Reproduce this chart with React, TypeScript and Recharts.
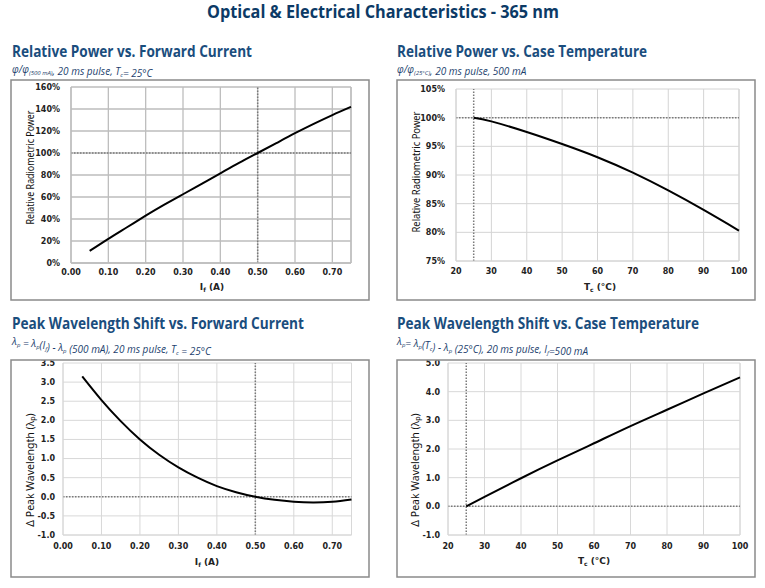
import React from 'react';
import { LineChart, Line, XAxis, YAxis, CartesianGrid, ReferenceLine } from 'recharts';

// ---- data ----
const currentA = [0.05, 0.1, 0.15, 0.2, 0.25, 0.3, 0.35, 0.4, 0.45, 0.5, 0.55, 0.6, 0.65, 0.7, 0.75];
const relPowerVsCurrent = [11, 22, 32.5, 43, 53, 62.5, 72, 81.5, 91, 100, 109, 118, 126.5, 134.5, 142];
const caseTempC = [25, 30, 40, 50, 60, 70, 80, 90, 100];
const relPowerVsTemp = [100, 99.35, 97.5, 95.4, 93.1, 90.4, 87.3, 83.9, 80.3];
const wlShiftVsCurrent = [3.15, 2.53, 1.98, 1.5, 1.1, 0.77, 0.5, 0.28, 0.12, 0, -0.08, -0.13, -0.15, -0.13, -0.07];
const wlShiftVsTemp = [0, 0.33, 0.98, 1.6, 2.2, 2.8, 3.37, 3.94, 4.5];

const currentTicks = [0, 0.1, 0.2, 0.3, 0.4, 0.5, 0.6, 0.7];
const tempTicks = [20, 30, 40, 50, 60, 70, 80, 90, 100];
const powerTicks = [0, 20, 40, 60, 80, 100, 120, 140, 160];
const powerTempTicks = [75, 80, 85, 90, 95, 100, 105];
const shiftCurrentTicks = [-1, -0.5, 0, 0.5, 1, 1.5, 2, 2.5, 3, 3.5];
const shiftTempTicks = [-1, 0, 1, 2, 3, 4, 5];

const pct = (v: number) => `${v}%`;
const f2 = (v: number) => v.toFixed(2);
const f1 = (v: number) => v.toFixed(1);
const f0 = (v: number) => `${v}`;

type PanelProps = {
  box: [number, number, number, number];
  plot: [number, number, number, number];
  xs: number[];
  ys: number[];
  xDomain: [number, number];
  xTicks: number[];
  yDomain: [number, number];
  yTicks: number[];
  xFmt: (v: number) => string;
  yFmt: (v: number) => string;
  refX: number;
  refY: number;
  gridColor: string;
  gridWidth: number;
  yTickMargin: number;
  xTickMargin: number;
};

const tickStyle = { fontSize: 8, fontWeight: 700, fontFamily: 'DejaVu Sans', fill: '#222' };

function Panel(p: PanelProps) {
  const [bl, bt, br, bb] = p.box;
  const [pl, pt, pr, pb] = p.plot;
  const W = br - bl;
  const H = bb - bt;
  const yw = 30;
  const xh = 20;
  const data = p.xs.map((x, i) => ({ x, y: p.ys[i] }));
  return (
    <div style={{ position: 'absolute', left: bl, top: bt, width: W, height: H }}>
      <LineChart
        width={W}
        height={H}
        data={data}
        margin={{ left: pl - bl - yw, top: pt - bt, right: br - pr, bottom: bb - pb - xh }}
      >
        <CartesianGrid stroke={p.gridColor} strokeWidth={p.gridWidth} />
        <XAxis
          type="number"
          dataKey="x"
          domain={p.xDomain}
          ticks={p.xTicks}
          interval={0}
          tickFormatter={p.xFmt}
          tickLine={false}
          tickSize={0}
          tickMargin={p.xTickMargin}
          axisLine={{ stroke: p.gridColor, strokeWidth: p.gridWidth }}
          height={xh}
          tick={tickStyle}
        />
        <YAxis
          type="number"
          domain={p.yDomain}
          ticks={p.yTicks}
          interval={0}
          tickFormatter={p.yFmt}
          tickLine={false}
          tickSize={0}
          tickMargin={p.yTickMargin}
          axisLine={{ stroke: p.gridColor, strokeWidth: p.gridWidth }}
          width={yw}
          tick={tickStyle}
        />
        <ReferenceLine x={p.xDomain[1]} stroke={p.gridColor} strokeWidth={p.gridWidth} />
        <ReferenceLine x={p.refX} stroke="#7a7a7a" strokeWidth={1.5} strokeDasharray="1.5 1.5" />
        <ReferenceLine y={p.refY} stroke="#7a7a7a" strokeWidth={1.5} strokeDasharray="1.5 1.5" />
        <Line
          type="natural"
          dataKey="y"
          stroke="#000"
          strokeWidth={2}
          dot={false}
          isAnimationActive={false}
        />
      </LineChart>
    </div>
  );
}

const headFill = '#1a4d7d';
const subFill = '#1d3f6e';

function Overlay() {
  const head = { fontFamily: 'Open Sans', fontWeight: 700, fontSize: 16, fill: headFill } as const;
  const sub = { fontFamily: 'Open Sans', fontStyle: 'italic', fontSize: 10, fill: subFill } as const;
  const yl = { fontFamily: 'Noto Sans', fontSize: 10.5, fill: '#111' } as const;
  const xl = { fontFamily: 'DejaVu Sans', fontWeight: 700, fontSize: 9, fill: '#222' } as const;
  const S = (t: string) => (
    <>
      <tspan fontSize={6} dy={2}>{t}</tspan>
      <tspan dy={-2}>{''}</tspan>
    </>
  );
  return (
    <svg width={765} height={588} style={{ position: 'absolute', left: 0, top: 0, pointerEvents: 'none' }}>
      <text x={383} y={18} textAnchor="middle" fontFamily="Open Sans" fontWeight={700} fontSize={18} fill="#0c3a66" textLength={352} lengthAdjust="spacingAndGlyphs">
        Optical &amp; Electrical Characteristics - 365 nm
      </text>

      <rect x={11} y={80} width={358} height={220} fill="none" stroke="#8a8a8a" strokeWidth={1.5} />
      <rect x={397} y={80} width={358} height={220} fill="none" stroke="#8a8a8a" strokeWidth={1.5} />
      <rect x={11} y={360} width={358} height={217} fill="none" stroke="#8a8a8a" strokeWidth={1.5} />
      <rect x={397} y={360} width={358} height={217} fill="none" stroke="#8a8a8a" strokeWidth={1.5} />

      <text x={12} y={57} {...head} textLength={240} lengthAdjust="spacingAndGlyphs">Relative Power vs. Forward Current</text>
      <text x={397} y={57} {...head} textLength={250} lengthAdjust="spacingAndGlyphs">Relative Power vs. Case Temperature</text>
      <text x={12} y={329} {...head} textLength={292} lengthAdjust="spacingAndGlyphs">Peak Wavelength Shift vs. Forward Current</text>
      <text x={397} y={329} {...head} textLength={302} lengthAdjust="spacingAndGlyphs">Peak Wavelength Shift vs. Case Temperature</text>

      <text x={12} y={72.5} {...sub}>
        φ/φ{S('(500 mA)')}, 20 ms pulse, T{S('c')}= 25°C
      </text>
      <text x={397} y={72.5} {...sub}>
        φ/φ{S('(25°C)')}, 20 ms pulse, 500 mA
      </text>
      <text x={12} y={345} {...sub}>
        λ{S('p')} = λ{S('p')}(I{S('f')}) - λ{S('p')} (500 mA),  20 ms pulse, T{S('c')} = 25°C
      </text>
      <text x={397} y={345} {...sub}>
        λ{S('p')}= λ{S('p')}(T{S('c')}) - λ{S('p')} (25°C), 20 ms pulse, I{S('f')}=500 mA
      </text>

      <text x={30} y={167.5} {...yl} textAnchor="middle" dominantBaseline="central" transform="rotate(-90 30 167.5)" textLength={114} lengthAdjust="spacingAndGlyphs">Relative Radiometric Power</text>
      <text x={416} y={172} {...yl} textAnchor="middle" dominantBaseline="central" transform="rotate(-90 416 172)" textLength={121} lengthAdjust="spacingAndGlyphs">Relative Radiometric Power</text>
      <text x={30} y={470} {...yl} textAnchor="middle" dominantBaseline="central" transform="rotate(-90 30 470)">
        Δ Peak Wavelength (λ<tspan fontSize={7} dy={2}>p</tspan><tspan dy={-2}>)</tspan>
      </text>
      <text x={415} y={470} {...yl} textAnchor="middle" dominantBaseline="central" transform="rotate(-90 415 470)">
        Δ Peak Wavelength (λ<tspan fontSize={7} dy={2}>p</tspan><tspan dy={-2}>)</tspan>
      </text>

      <text x={212} y={290} {...xl} textAnchor="middle">
        I<tspan fontSize={6} dy={2}>f</tspan><tspan dy={-2}> (A)</tspan>
      </text>
      <text x={600} y={290} {...xl} textAnchor="middle">
        T<tspan fontSize={6} dy={2}>c</tspan><tspan dy={-2}> (°C)</tspan>
      </text>
      <text x={207} y={565} {...xl} textAnchor="middle">
        I<tspan fontSize={6} dy={2}>f</tspan><tspan dy={-2}> (A)</tspan>
      </text>
      <text x={594} y={564} {...xl} textAnchor="middle">
        T<tspan fontSize={6} dy={2}>c</tspan><tspan dy={-2}> (°C)</tspan>
      </text>
    </svg>
  );
}

export default function App() {
  return (
    <div style={{ position: 'absolute', left: 0, top: 0, width: 765, height: 588, background: '#fff', overflow: 'hidden' }}>
      <Panel
        box={[11, 80, 369, 300]}
        plot={[71, 87, 351, 263]}
        xs={currentA}
        ys={relPowerVsCurrent}
        xDomain={[0, 0.75]}
        xTicks={currentTicks}
        yDomain={[0, 160]}
        yTicks={powerTicks}
        xFmt={f2}
        yFmt={pct}
        refX={0.5}
        refY={100}
        gridColor="#bdbdbd"
        gridWidth={1.3}
        yTickMargin={11}
        xTickMargin={6}
      />
      <Panel
        box={[397, 80, 755, 300]}
        plot={[456, 89, 739, 261]}
        xs={caseTempC}
        ys={relPowerVsTemp}
        xDomain={[20, 100]}
        xTicks={tempTicks}
        yDomain={[75, 105]}
        yTicks={powerTempTicks}
        xFmt={f0}
        yFmt={pct}
        refX={25}
        refY={100}
        gridColor="#d4d4d4"
        gridWidth={1}
        yTickMargin={11}
        xTickMargin={7}
      />
      <Panel
        box={[11, 360, 369, 577]}
        plot={[63, 363, 351.5, 535]}
        xs={currentA}
        ys={wlShiftVsCurrent}
        xDomain={[0, 0.75]}
        xTicks={currentTicks}
        yDomain={[-1, 3.5]}
        yTicks={shiftCurrentTicks}
        xFmt={f2}
        yFmt={f1}
        refX={0.5}
        refY={0}
        gridColor="#d8d8d8"
        gridWidth={1}
        yTickMargin={8}
        xTickMargin={8}
      />
      <Panel
        box={[397, 360, 755, 577]}
        plot={[448, 363, 740, 535]}
        xs={caseTempC}
        ys={wlShiftVsTemp}
        xDomain={[20, 100]}
        xTicks={tempTicks}
        yDomain={[-1, 5]}
        yTicks={shiftTempTicks}
        xFmt={f0}
        yFmt={f1}
        refX={25}
        refY={0}
        gridColor="#d8d8d8"
        gridWidth={1}
        yTickMargin={8}
        xTickMargin={8}
      />
      <Overlay />
    </div>
  );
}
